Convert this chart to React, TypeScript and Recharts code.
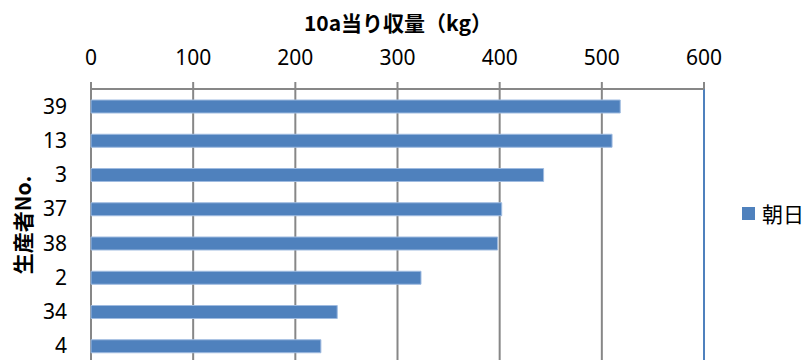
import React from 'react';
import { BarChart, Bar, XAxis, YAxis, CartesianGrid, ReferenceLine } from 'recharts';

const producers = ['39', '13', '3', '37', '38', '2', '34', '4'];
const yields = [518, 510, 443, 402, 398, 323, 241, 225];
const xTicks = [0, 100, 200, 300, 400, 500, 600];
const seriesName = '朝日';
const xTitle = '10a当り収量（kg）';
const yTitle = '生産者No.';

const data = producers.map((p, i) => ({ name: p, value: yields[i] }));

const BLUE = '#4F81BD';
const GRID = '#878787';

export default function App() {
  return (
    <div style={{ position: 'absolute', left: 0, top: 0, width: 808, height: 360, overflow: 'hidden', background: '#fff' }}>
      <BarChart
        width={808}
        height={366}
        data={data}
        layout="vertical"
        margin={{ top: 40, right: 104, bottom: 3, left: 0 }}
        barSize={13}
      >
        <CartesianGrid horizontal={false} vertical stroke={GRID} strokeWidth={2} />
        <XAxis
          type="number"
          orientation="top"
          domain={[0, 600]}
          ticks={xTicks}
          interval={0}
          height={49}
          tickSize={7}
          tickMargin={17}
          stroke={GRID}
          axisLine={{ stroke: GRID, strokeWidth: 2 }}
          tickLine={{ stroke: GRID, strokeWidth: 2 }}
          tick={{ fill: '#000', fontSize: 21, fontFamily: 'Noto Sans' }}
          label={{
            content: () => (
              <text x={398} y={22} textAnchor="middle" dominantBaseline="central"
                style={{ fontFamily: '"Noto Sans CJK JP"', fontWeight: 'bold', fontSize: 21, fill: '#000' }}>
                {xTitle}
              </text>
            ),
          }}
        />
        <YAxis
          type="category"
          dataKey="name"
          width={91}
          axisLine={false}
          tickLine={false}
          tickSize={0}
          tickMargin={24}
          interval={0}
          tick={{ fill: '#000', fontSize: 21, fontFamily: 'Noto Sans' }}
          label={{
            content: () => (
              <text x={22} y={225} textAnchor="middle" dominantBaseline="central"
                transform="rotate(-90, 22, 225)"
                style={{ fontFamily: '"Noto Sans CJK JP"', fontWeight: 'bold', fontSize: 21, fill: '#000' }}>
                {yTitle}
              </text>
            ),
          }}
        />
        <ReferenceLine x={600} stroke={BLUE} strokeWidth={2} />
        <Bar dataKey="value" name={seriesName} fill={BLUE} stroke="#9fbbe0" strokeWidth={1} isAnimationActive={false} />
      </BarChart>
      <div style={{ position: 'absolute', left: 742, top: 201, display: 'flex', alignItems: 'center', fontFamily: '"Noto Sans CJK JP"', fontSize: 21, color: '#000', lineHeight: '24px' }}>
        <span style={{ display: 'inline-block', width: 13, height: 13, background: BLUE, marginRight: 7 }} />
        <span>{seriesName}</span>
      </div>
    </div>
  );
}
